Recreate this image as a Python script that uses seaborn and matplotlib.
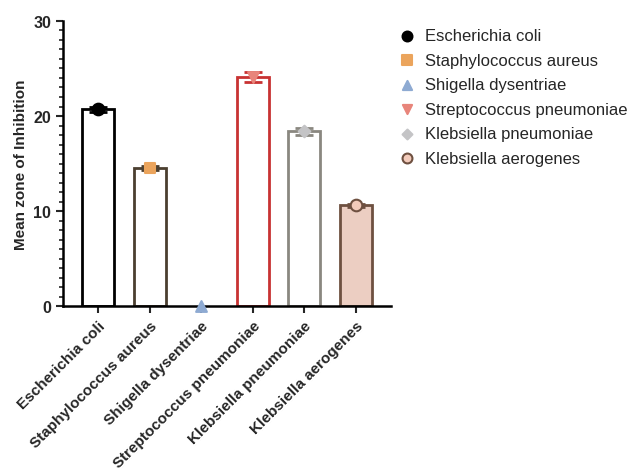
import matplotlib
matplotlib.use("Agg")
import matplotlib.pyplot as plt
import seaborn as sns
import pandas as pd
from matplotlib.ticker import MultipleLocator

# Inhibition zone measurements per organism
species = ["Escherichia coli", "Staphylococcus aureus", "Shigella dysentriae",
           "Streptococcus pneumoniae", "Klebsiella pneumoniae", "Klebsiella aerogenes"]
means = [20.7, 14.5, 0.0, 24.1, 18.4, 10.6]
sds = [0.25, 0.2, 0.0, 0.5, 0.35, 0.15]

edge_colors = ["#000000", "#4b3f30", "none", "#c83232", "#8a8780", "#6e5040"]
face_colors = ["#ffffff", "#ffffff", "#ffffff", "#ffffff", "#ffffff", "#f3cbbb"]
marker_colors = ["#000000", "#eba45c", "#8eaad2", "#e8857b", "#c4c4c6", "#f3cbbb"]
marker_edges = ["#000000", "#eba45c", "#8eaad2", "#e8857b", "#c4c4c6", "#6e5040"]
marker_shapes = ["o", "s", "^", "v", "D", "o"]
marker_sizes = [70, 60, 60, 60, 35, 70]

sns.set_theme(style="ticks")
plt.rcParams["font.family"] = ["Liberation Sans", "DejaVu Sans"]

df = pd.DataFrame({"species": species, "mean": means, "sd": sds})

fig = plt.figure(figsize=(6.32, 4.77), dpi=100)
ax = fig.add_axes([0.0997, 0.356, 0.519, 0.598])

sns.barplot(data=df, x="species", y="mean", hue="species", palette=face_colors,
            width=0.62, errorbar=None, legend=False, ax=ax, zorder=2)

for patch, ec in zip(ax.patches, edge_colors):
    patch.set_edgecolor(ec)
    patch.set_linewidth(2.0)

for i, (m, s, ec) in enumerate(zip(means, sds, edge_colors)):
    if s > 0:
        ax.errorbar(i, m, yerr=s, color=ec, capsize=6.5, capthick=2.0,
                    elinewidth=1.5, zorder=3)

for i, (m, sp) in enumerate(zip(means, species)):
    ax.scatter(i, m, marker=marker_shapes[i], s=marker_sizes[i],
               color=marker_colors[i], edgecolors=marker_edges[i],
               linewidths=1.5, zorder=4, label=sp, clip_on=False)

ax.set_xlim(-0.68, 5.68)
ax.set_ylim(0, 30)
ax.yaxis.set_major_locator(MultipleLocator(10))
ax.yaxis.set_minor_locator(MultipleLocator(1))
ax.tick_params(axis="y", which="major", length=5, width=1.5, labelsize=11.5)
ax.tick_params(axis="y", which="minor", length=3, width=1.2)
ax.tick_params(axis="x", length=5, width=1.5, labelsize=11)
for lbl in ax.get_yticklabels():
    lbl.set_fontweight("bold")

ax.set_xticks(range(len(species)))
ax.set_xticklabels(species, rotation=45, ha="right", rotation_mode="anchor",
                   fontweight="bold")
ax.set_xlabel("")
ax.set_ylabel("Mean zone of Inhibition", fontsize=11, fontweight="bold")

sns.despine(ax=ax)
for side in ["left", "bottom"]:
    ax.spines[side].set_linewidth(1.8)
    ax.spines[side].set_color("#000000")

leg = ax.legend(loc="upper left", bbox_to_anchor=(0.988, 0.998), frameon=False,
                fontsize=12, handlelength=1.6, handletextpad=0.3,
                labelspacing=0.57, borderaxespad=0, markerscale=0.85)

fig.savefig("out.png", dpi=100)
